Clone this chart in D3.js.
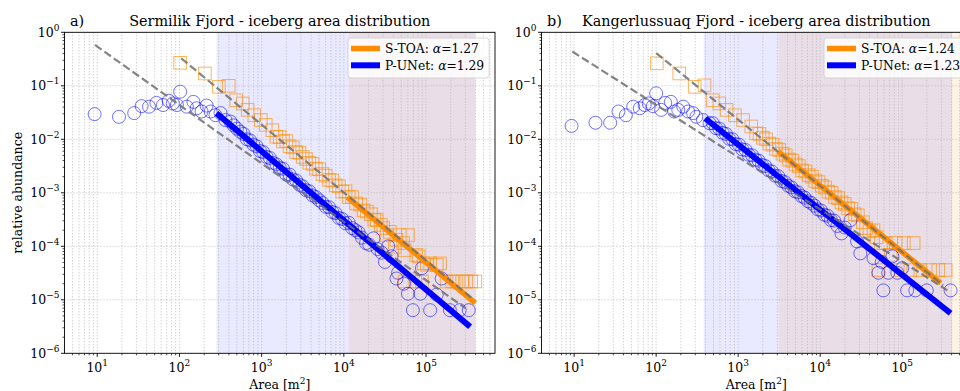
<!DOCTYPE html>
<html><head><meta charset="utf-8">
<script src="https://cdn.jsdelivr.net/npm/d3@7"></script>
<style>
body{margin:0;background:#fff}
svg{display:block}
text{font-family:"DejaVu Serif",serif;fill:#000}
</style>
</head><body>
<svg id="c" width="960" height="391"></svg>
<script>
// ---------------- DATA ----------------
const panelTitles = ["Sermilik Fjord - iceberg area distribution", "Kangerlussuaq Fjord - iceberg area distribution"];
const panelLetters = ["a)", "b)"];
const alphaSTOA = ["1.27", "1.24"];
const alphaPUNet = ["1.29", "1.23"];
const xTickValues = [10, 100, 1000, 10000, 100000];
const xTickExp = ["1", "2", "3", "4", "5"];
const yTickValues = [1e-6, 1e-5, 1e-4, 1e-3, 1e-2, 1e-1, 1];
const yTickExp = ["\u22126", "\u22125", "\u22124", "\u22123", "\u22122", "\u22121", "0"];
const xDomain = [4, 690000];
const yDomain = [1e-6, 1];

// Sermilik P-UNet (blue circles)
const leftPUNetArea = [9.3,18.4,28.2,34.7,42.7,52.5,63.1,74.1,83.2,93.3,102,123,148,162,186,214,240,275,316,363,417,
 457,501,550,603,661,724,794,871,955,1047,1148,1259,1380,1514,1660,1820,1995,2188,2399,2630,2884,3162,3467,3802,4169,4571,5012,5495,6026,6607,7244,7943,8710,9550,10470,11480,12590,13800,15140,16600,
 18620,20420,22910,25700,28840,31620,34670,38020,43650,45710,53700,60260,69180,85110,89130,112200,134900,154900,195000,257000,331000];
const leftPUNetAbund = [0.0295,0.0263,0.0309,0.0417,0.0407,0.0479,0.0437,0.0525,0.0468,0.0437,0.0776,0.0407,0.0501,0.038,0.0331,0.0427,0.0331,0.0282,0.0309,0.0229,0.0214,
 0.0182,0.0158,0.0138,0.0126,0.0100,0.00955,0.00794,0.00741,0.00603,0.00575,0.00468,0.00447,0.00363,0.00339,0.00295,0.00282,0.00219,0.00219,0.00178,0.0017,0.00141,0.00132,0.00112,0.00107,0.000891,0.000832,0.000724,0.000646,0.00055,0.000537,0.000437,0.000417,0.000339,0.000324,0.000269,0.000275,0.000219,0.0002,0.000182,0.000145,
 0.000115,0.000107,0.000141,8.9e-5,7.6e-5,5.1e-5,1.0e-4,6.5e-5,2.5e-5,3.2e-5,2.0e-5,1.3e-5,6.4e-6,1.3e-5,3.9e-5,6.4e-6,1.25e-5,2.5e-5,6.4e-6,6.4e-6,6.4e-6];

// Sermilik S-TOA (orange squares)
const leftSTOAArea = [102,204,302,398,490,589,676,813,977,1122,1349,1514,
 1660,1820,1995,2188,2399,2630,2884,3162,3467,3802,4169,4571,5012,5495,6026,6607,7244,7943,8710,9550,10470,11480,12590,
 14130,15850,17380,19050,21380,23440,25120,28180,30200,33110,36310,41690,43650,47860,52480,54950,60260,75860,81280,93330,102300,112200,134900,147900,
 54950,74130,89130,177800,209000,234400,275000,309000,355000,398100];
const leftSTOAAbund = [0.269,0.17,0.0955,0.1,0.0537,0.0468,0.0355,0.0282,0.0229,0.0186,0.0148,0.0112,
 0.011,0.00912,0.00933,0.00741,0.00708,0.00575,0.00562,0.00468,0.00427,0.00363,0.00347,0.00282,0.00275,0.00224,0.00209,0.00174,0.0017,0.00138,0.00132,0.00105,0.00107,0.000832,0.000832,
 0.000631,0.000603,0.000468,0.000447,0.000398,0.000316,0.000309,0.000251,0.000219,0.000162,0.000186,9.8e-5,0.000132,0.000162,0.000115,8.5e-5,0.000162,6.9e-5,6.5e-5,4.8e-5,4.5e-5,4.8e-5,4.5e-5,4.8e-5,
 2.2e-5,2.2e-5,2.2e-5,2.2e-5,2.2e-5,2.2e-5,2.2e-5,2.2e-5,2.2e-5,2.2e-5];

// Kangerlussuaq P-UNet (blue circles)
const rightPUNetArea = [9.3,18.2,27.5,34.7,42.7,52.5,63.1,72.4,81.3,91.2,100,115,129,151,166,186,214,245,282,309,372,447,
 490,537,589,646,708,776,851,933,1023,1122,1230,1349,1479,1622,1778,1950,2138,2344,2570,2818,3090,3388,3715,4074,4467,4898,5370,5888,6457,7079,7762,8511,9333,10230,11220,12300,13490,14790,16220,
 18200,19950,23440,28180,30900,44670,56230,51290,75860,67610,87100,100000,58880,114800,144500,199500,389000];
const rightPUNetAbund = [0.0178,0.0204,0.0204,0.0331,0.0282,0.0407,0.038,0.0437,0.0468,0.0417,0.0724,0.0355,0.0479,0.0501,0.0331,0.0355,0.0407,0.0331,0.0309,0.0263,0.0229,0.02,
 0.02,0.0162,0.0158,0.0132,0.0126,0.0102,0.01,0.00813,0.00794,0.00646,0.00631,0.00513,0.00501,0.00417,0.00398,0.00331,0.00316,0.00263,0.00251,0.00209,0.00204,0.00166,0.00158,0.00135,0.00126,0.00107,0.00102,0.000871,0.000813,0.000692,0.000646,0.000575,0.00049,0.000468,0.000389,0.000372,0.000309,0.000302,0.00024,
 0.000174,0.000224,0.000309,0.000123,7.4e-5,6.0e-5,5.1e-5,3.2e-5,6.5e-5,3.2e-5,3.2e-5,3.9e-5,1.5e-5,1.5e-5,1.5e-5,1.5e-5,1.5e-5];

// Kangerlussuaq S-TOA (orange squares)
const rightSTOAArea = [102,191,295,389,490,589,724,912,1148,1445,1660,
 1820,1995,2188,2399,2630,2884,3162,3467,3802,4169,4571,5012,5495,6026,6607,7244,7943,8710,9550,10470,11480,12590,13800,15140,16600,18200,19950,21880,23990,26300,28840,
 33110,36310,39810,44670,48980,54950,63100,72440,83180,104700,138000,
 51290,95500,125900,166000,218800,275400,338800];
const rightSTOAAbund = [0.263,0.17,0.0955,0.102,0.0537,0.0468,0.0355,0.0282,0.0229,0.0174,0.0129,
 0.0126,0.0107,0.01,0.00832,0.00794,0.00661,0.00631,0.00537,0.00501,0.00417,0.00398,0.00339,0.00316,0.00263,0.00251,0.00214,0.002,0.00166,0.00158,0.00135,0.00126,0.00105,0.001,0.000832,0.000794,0.000661,0.000617,0.000513,0.000501,0.000398,0.00038,
 0.000282,0.000219,0.000191,0.0002,0.000148,0.000115,0.000115,6.9e-5,0.000115,0.000115,0.000115,
 3.6e-5,3.6e-5,3.6e-5,3.6e-5,3.6e-5,3.6e-5,3.6e-5];

// fitted power laws: [start, end]
const leftPUNetFitArea = [283, 344000];   const leftPUNetFitAbund = [0.0306, 3.14e-6];
const leftSTOAFitArea = [11000, 398000];  const leftSTOAFitAbund = [8.3e-4, 8.7e-6];
const leftRefUpperArea = [105, 375000];   const leftRefUpperAbund = [0.327, 1.02e-5];
const leftRefLowerArea = [9.4, 300000];   const leftRefLowerAbund = [0.58, 7.0e-6];
const rightPUNetFitArea = [398, 389000];  const rightPUNetFitAbund = [0.0245, 5.6e-6];
const rightSTOAFitArea = [3090, 295000];  const rightSTOAFitAbund = [5.9e-3, 2.04e-5];
const rightRefUpperArea = [100, 316000];  const rightRefUpperAbund = [0.407, 1.86e-5];
const rightRefLowerArea = [9.5, 355000];  const rightRefLowerAbund = [0.437, 1.5e-5];

// fit ranges (shaded)
const leftPUNetSpan = [283, 398000];  const leftSTOASpan = [11500, 398000];
const rightPUNetSpan = [380, 407000]; const rightSTOASpan = [3100, 620000];

// ---------------- DRAW ----------------
const svg = d3.select("#c");
const yTop = 32.3, yBot = 353.3;
const panels = [
  {x0:64.5, x1:495, pA:leftPUNetArea, pV:leftPUNetAbund, sA:leftSTOAArea, sV:leftSTOAAbund,
   pfA:leftPUNetFitArea, pfV:leftPUNetFitAbund, sfA:leftSTOAFitArea, sfV:leftSTOAFitAbund,
   ruA:leftRefUpperArea, ruV:leftRefUpperAbund, rlA:leftRefLowerArea, rlV:leftRefLowerAbund,
   pSpan:leftPUNetSpan, sSpan:leftSTOASpan, ylabel:true},
  {x0:541.5, x1:971, pA:rightPUNetArea, pV:rightPUNetAbund, sA:rightSTOAArea, sV:rightSTOAAbund,
   pfA:rightPUNetFitArea, pfV:rightPUNetFitAbund, sfA:rightSTOAFitArea, sfV:rightSTOAFitAbund,
   ruA:rightRefUpperArea, ruV:rightRefUpperAbund, rlA:rightRefLowerArea, rlV:rightRefLowerAbund,
   pSpan:rightPUNetSpan, sSpan:rightSTOASpan, ylabel:false}
];

function minorTicks(lo, hi) {
  const out = [];
  for (let e = -7; e <= 6; e++) for (let m = 2; m <= 9; m++) {
    const v = m * Math.pow(10, e);
    if (v > lo && v < hi) out.push(v);
  }
  return out;
}

panels.forEach((p, i) => {
  const x = d3.scaleLog().domain(xDomain).range([p.x0, p.x1]);
  const y = d3.scaleLog().domain(yDomain).range([yBot, yTop]);
  const g = svg.append("g");
  const clipId = "clip" + i;
  svg.append("clipPath").attr("id", clipId).append("rect")
    .attr("x", p.x0).attr("y", yTop).attr("width", p.x1 - p.x0).attr("height", yBot - yTop);
  const plot = g.append("g").attr("clip-path", `url(#${clipId})`);

  // spans
  plot.append("rect").attr("x", x(p.sSpan[0])).attr("width", x(p.sSpan[1]) - x(p.sSpan[0]))
    .attr("y", yTop).attr("height", yBot - yTop).attr("fill", "#ff8c00").attr("fill-opacity", 0.1);
  plot.append("rect").attr("x", x(p.pSpan[0])).attr("width", x(p.pSpan[1]) - x(p.pSpan[0]))
    .attr("y", yTop).attr("height", yBot - yTop).attr("fill", "#0000ff").attr("fill-opacity", 0.085);

  // grid
  const xMinor = minorTicks(xDomain[0], xDomain[1]);
  plot.selectAll(".gx").data(xTickValues.concat(xMinor)).enter().append("line")
    .attr("x1", d => x(d)).attr("x2", d => x(d)).attr("y1", yTop).attr("y2", yBot)
    .attr("stroke", "#b0b0b0").attr("stroke-width", 0.8).attr("stroke-dasharray", "1,2");
  plot.selectAll(".gy").data(yTickValues).enter().append("line")
    .attr("x1", p.x0).attr("x2", p.x1).attr("y1", d => y(d)).attr("y2", d => y(d))
    .attr("stroke", "#b0b0b0").attr("stroke-width", 0.8).attr("stroke-dasharray", "1,2");

  // markers
  plot.selectAll(".sq").data(d3.zip(p.sA, p.sV)).enter().append("rect")
    .attr("x", d => x(d[0]) - 6.3).attr("y", d => y(d[1]) - 6.3)
    .attr("width", 12.6).attr("height", 12.6)
    .attr("fill", "none").attr("stroke", "#ff8c00").attr("stroke-opacity", 0.65).attr("stroke-width", 1);
  plot.selectAll(".ci").data(d3.zip(p.pA, p.pV)).enter().append("circle")
    .attr("cx", d => x(d[0])).attr("cy", d => y(d[1])).attr("r", 6.5)
    .attr("fill", "none").attr("stroke", "#0000ff").attr("stroke-opacity", 0.55).attr("stroke-width", 1);

  const line = d3.line().x(d => x(d[0])).y(d => y(d[1]));
  // fit lines
  plot.append("path").attr("d", line(d3.zip(p.sfA, p.sfV))).attr("stroke", "#ff8c00").attr("stroke-width", 5.5).attr("fill", "none");
  plot.append("path").attr("d", line(d3.zip(p.pfA, p.pfV))).attr("stroke", "#0000ff").attr("stroke-width", 6).attr("fill", "none");
  // reference dashed lines
  [[p.ruA, p.ruV], [p.rlA, p.rlV]].forEach(r => {
    plot.append("path").attr("d", line(d3.zip(r[0], r[1]))).attr("stroke", "#707070").attr("stroke-opacity", 0.85)
      .attr("stroke-width", 2.2).attr("stroke-dasharray", "8,3.5").attr("fill", "none");
  });

  // spines
  g.append("rect").attr("x", p.x0).attr("y", yTop).attr("width", p.x1 - p.x0).attr("height", yBot - yTop)
    .attr("fill", "none").attr("stroke", "#000").attr("stroke-width", 0.9);

  // x ticks
  g.selectAll(".xt").data(xTickValues).enter().append("line")
    .attr("x1", d => x(d)).attr("x2", d => x(d)).attr("y1", yBot).attr("y2", yBot + 3.5).attr("stroke", "#000").attr("stroke-width", 0.9);
  g.selectAll(".xm").data(xMinor).enter().append("line")
    .attr("x1", d => x(d)).attr("x2", d => x(d)).attr("y1", yBot).attr("y2", yBot + 2).attr("stroke", "#000").attr("stroke-width", 0.7);
  xTickValues.forEach((v, k) => {
    const t = g.append("text").attr("x", x(v)).attr("y", 371.5).attr("text-anchor", "middle").attr("font-size", 12.5);
    t.append("tspan").text("10");
    t.append("tspan").attr("dy", -6).attr("font-size", 9).text(xTickExp[k]);
  });
  // y ticks
  const yMinor = minorTicks(yDomain[0], yDomain[1]);
  g.selectAll(".yt").data(yTickValues).enter().append("line")
    .attr("x1", p.x0 - 3.5).attr("x2", p.x0).attr("y1", d => y(d)).attr("y2", d => y(d)).attr("stroke", "#000").attr("stroke-width", 0.9);
  g.selectAll(".ym").data(yMinor).enter().append("line")
    .attr("x1", p.x0 - 2).attr("x2", p.x0).attr("y1", d => y(d)).attr("y2", d => y(d)).attr("stroke", "#000").attr("stroke-width", 0.7);
  yTickValues.forEach((v, k) => {
    const t = g.append("text").attr("x", p.x0 - 5).attr("y", y(v) + 4.5).attr("text-anchor", "end").attr("font-size", 12.5);
    t.append("tspan").text("10");
    t.append("tspan").attr("dy", -6).attr("font-size", 9).text(yTickExp[k]);
  });

  // labels
  const cx = (p.x0 + p.x1) / 2;
  const xl = g.append("text").attr("x", cx).attr("y", 389).attr("text-anchor", "middle").attr("font-size", 12.5);
  xl.append("tspan").text("Area [m");
  xl.append("tspan").attr("dy", -5).attr("font-size", 9).text("2");
  xl.append("tspan").attr("dy", 5).text("]");
  if (p.ylabel) {
    g.append("text").attr("transform", `translate(22,${(yTop + yBot) / 2}) rotate(-90)`)
      .attr("text-anchor", "middle").attr("font-size", 12.5).text("relative abundance");
  }
  g.append("text").attr("x", cx).attr("y", 26).attr("text-anchor", "middle").attr("font-size", 14.4).text(panelTitles[i]);
  g.append("text").attr("x", p.x0 + 5.5).attr("y", 26).attr("font-size", 14.4).text(panelLetters[i]);

  // legend
  const lx = p.x1 - 147, ly = 38;
  const lg = g.append("g");
  const box = lg.append("rect").attr("x", lx).attr("y", ly).attr("width", 142).attr("height", 40).attr("rx", 3)
    .attr("fill", "#fff").attr("fill-opacity", 0.8).attr("stroke", "#cccccc").attr("stroke-width", 0.8);
  const entries = [["#ff8c00", "S-TOA: ", alphaSTOA[i], 5.5], ["#0000ff", "P-UNet: ", alphaPUNet[i], 6]];
  let maxR = 0;
  entries.forEach((e, k) => {
    const yy = ly + 10.5 + k * 16.8;
    lg.append("line").attr("x1", lx + 3).attr("x2", lx + 32).attr("y1", yy).attr("y2", yy)
      .attr("stroke", e[0]).attr("stroke-width", e[3]);
    const t = lg.append("text").attr("x", lx + 37).attr("y", yy + 4.5).attr("font-size", 12.3);
    t.append("tspan").text(e[1]);
    t.append("tspan").attr("font-style", "italic").text("\u03b1");
    t.append("tspan").text("=" + e[2]);
    maxR = Math.max(maxR, t.node().getBBox().x + t.node().getBBox().width);
  });
  box.attr("width", maxR + 5 - lx);
});
</script>
</body></html>
